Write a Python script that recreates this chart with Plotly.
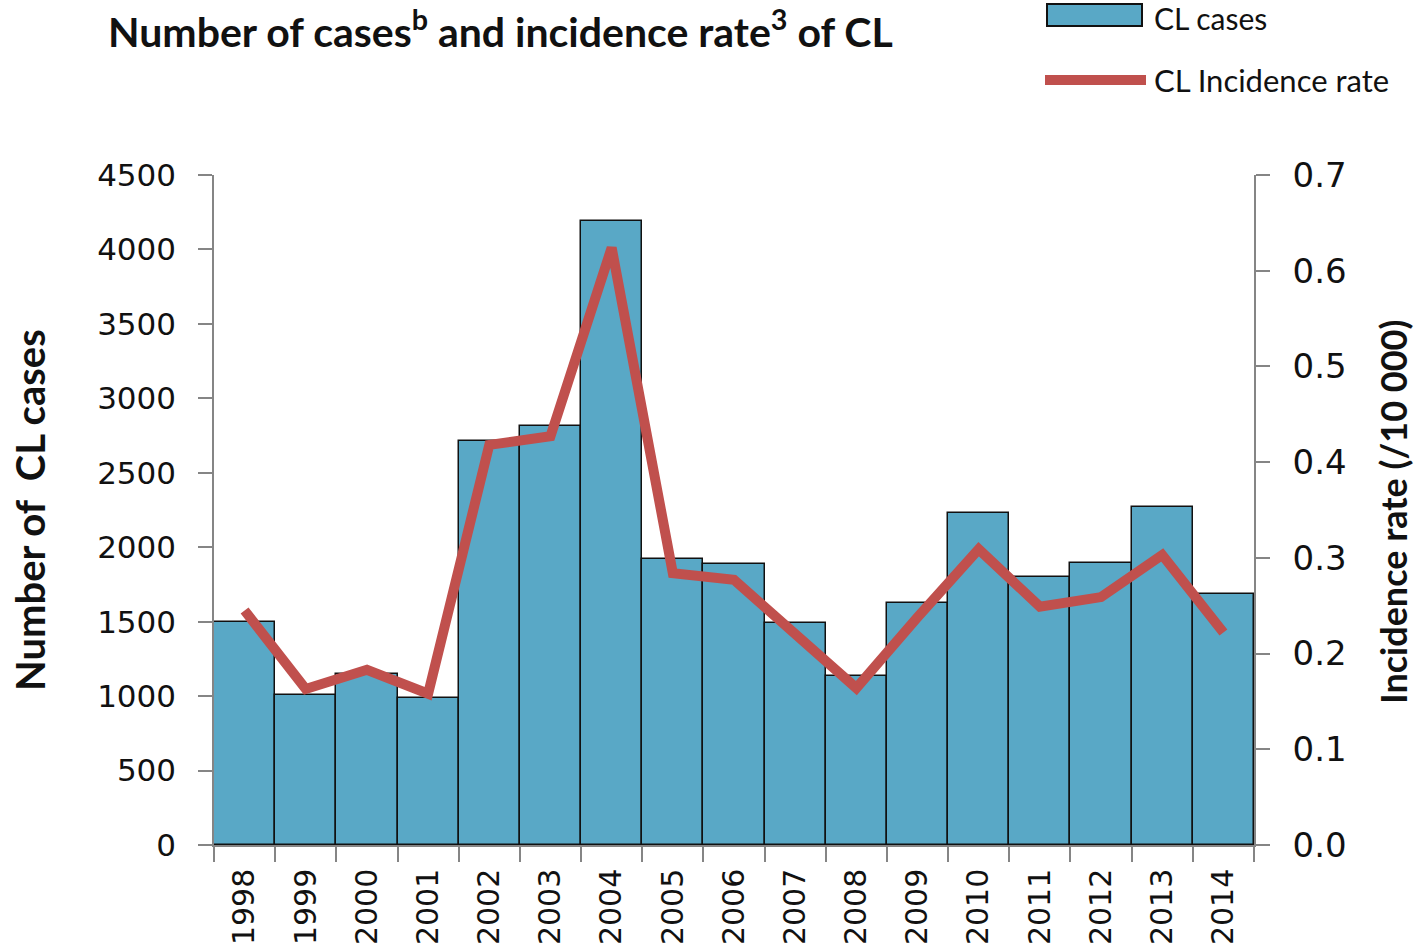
import plotly.graph_objects as go

years = ["1998", "1999", "2000", "2001", "2002", "2003", "2004", "2005", "2006",
         "2007", "2008", "2009", "2010", "2011", "2012", "2013", "2014"]
cl_cases = [1500, 1005, 1150, 990, 2715, 2815, 4190, 1920, 1890,
            1490, 1135, 1625, 2230, 1800, 1895, 2270, 1685]
incidence_rate = [0.245, 0.163, 0.183, 0.158, 0.418, 0.427, 0.624, 0.284, 0.277,
                  0.220, 0.164, 0.238, 0.309, 0.249, 0.259, 0.303, 0.222]
left_ticks = [0, 500, 1000, 1500, 2000, 2500, 3000, 3500, 4000, 4500]
right_ticks = [0.0, 0.1, 0.2, 0.3, 0.4, 0.5, 0.6, 0.7]

BAR = "#59A8C6"
LINE = "#C0504D"
AXIS = "#858585"
TICKFONT = "DejaVu Sans"
TEXTFONT = "Lato"

W, H = 1416, 952
PL, PR, PT, PB = 214, 1254, 175, 845  # plot area in reference px
ML, MR, MT, MB = PL, W - PR, PT, H - PB

fig = go.Figure()
fig.add_trace(go.Bar(
    x=years, y=cl_cases, name="CL cases", width=1,
    marker=dict(color=BAR, line=dict(color="#111111", width=1.5)),
    yaxis="y",
))
fig.add_trace(go.Scatter(
    x=years, y=incidence_rate, name="CL Incidence rate", mode="lines",
    line=dict(color=LINE, width=10),
    yaxis="y2",
))

def cx(px):  # reference px -> paper x
    return (px - PL) / (PR - PL)

def cy(py):  # reference px (from top) -> paper y
    return (PB - py) / (PB - PT)

fig.update_layout(
    width=W, height=H,
    margin=dict(l=ML, r=MR, t=MT, b=MB, autoexpand=False),
    plot_bgcolor="white", paper_bgcolor="white",
    bargap=0,
    showlegend=False,
    title=dict(text="<b>Number of cases<sup>b</sup> and incidence rate<sup>3</sup> of CL</b>",
               x=108 / W, xanchor="left", xref="container",
               y=1 - 33 / H, yanchor="middle", yref="container",
               font=dict(family=TEXTFONT, size=41, color="#111111")),
    xaxis=dict(
        type="category", range=[-0.5, 16.5], automargin=False,
        showline=True, linecolor=AXIS, linewidth=1.5,
        ticks="outside", tickson="boundaries", ticklen=15, tickcolor=AXIS, tickwidth=1.5,
        tickangle=-90, showgrid=False, ticklabelstandoff=10,
        tickfont=dict(family=TICKFONT, size=30, color="#111111"),
    ),
    yaxis=dict(
        range=[0, 4500], tickvals=left_ticks, automargin=False,
        showline=True, linecolor=AXIS, linewidth=1.5,
        ticks="outside", ticklen=14, tickcolor=AXIS, tickwidth=1.5,
        showgrid=False, zeroline=False, ticklabelstandoff=16,
        tickfont=dict(family=TICKFONT, size=31, color="#111111"),
    ),
    yaxis2=dict(
        range=[0, 0.7], tickvals=right_ticks, ticktext=[f"{v:.1f}" for v in right_ticks],
        overlaying="y", side="right", automargin=False,
        showline=True, linecolor=AXIS, linewidth=1.5,
        ticks="outside", ticklen=14, tickcolor=AXIS, tickwidth=1.5,
        showgrid=False, zeroline=False, ticklabelstandoff=16,
        tickfont=dict(family=TICKFONT, size=34, color="#111111"),
    ),
    annotations=[
        dict(text="<b>Number of  CL cases</b>", textangle=-90,
             x=cx(30), y=cy(510), xref="paper", yref="paper",
             showarrow=False, font=dict(family=TEXTFONT, size=40, color="#111111"),
             xanchor="center", yanchor="middle"),
        dict(text="<b>Incidence rate (/10 000)</b>", textangle=-90,
             x=cx(1393), y=cy(512), xref="paper", yref="paper",
             showarrow=False, font=dict(family=TEXTFONT, size=36, color="#111111"),
             xanchor="center", yanchor="middle"),
        # legend texts
        dict(text="CL cases", x=cx(1152), y=cy(18), xref="paper", yref="paper",
             showarrow=False, xanchor="left", yanchor="middle",
             font=dict(family=TEXTFONT, size=30, color="#111111")),
        dict(text="CL Incidence rate", x=cx(1152), y=cy(80), xref="paper", yref="paper",
             showarrow=False, xanchor="left", yanchor="middle",
             font=dict(family=TEXTFONT, size=31, color="#111111")),
    ],
    shapes=[
        # legend swatches
        dict(type="rect", xref="paper", yref="paper",
             x0=cx(1047), x1=cx(1142), y0=cy(26), y1=cy(4),
             fillcolor=BAR, line=dict(color="#111111", width=2)),
        dict(type="line", xref="paper", yref="paper",
             x0=cx(1045), x1=cx(1146), y0=cy(80), y1=cy(80),
             line=dict(color=LINE, width=10)),
    ],
)

fig.write_html(
    "out.html",
    config={"displayModeBar": False},
    post_script="document.body.style.margin='0px';document.body.style.overflow='hidden';",
)
